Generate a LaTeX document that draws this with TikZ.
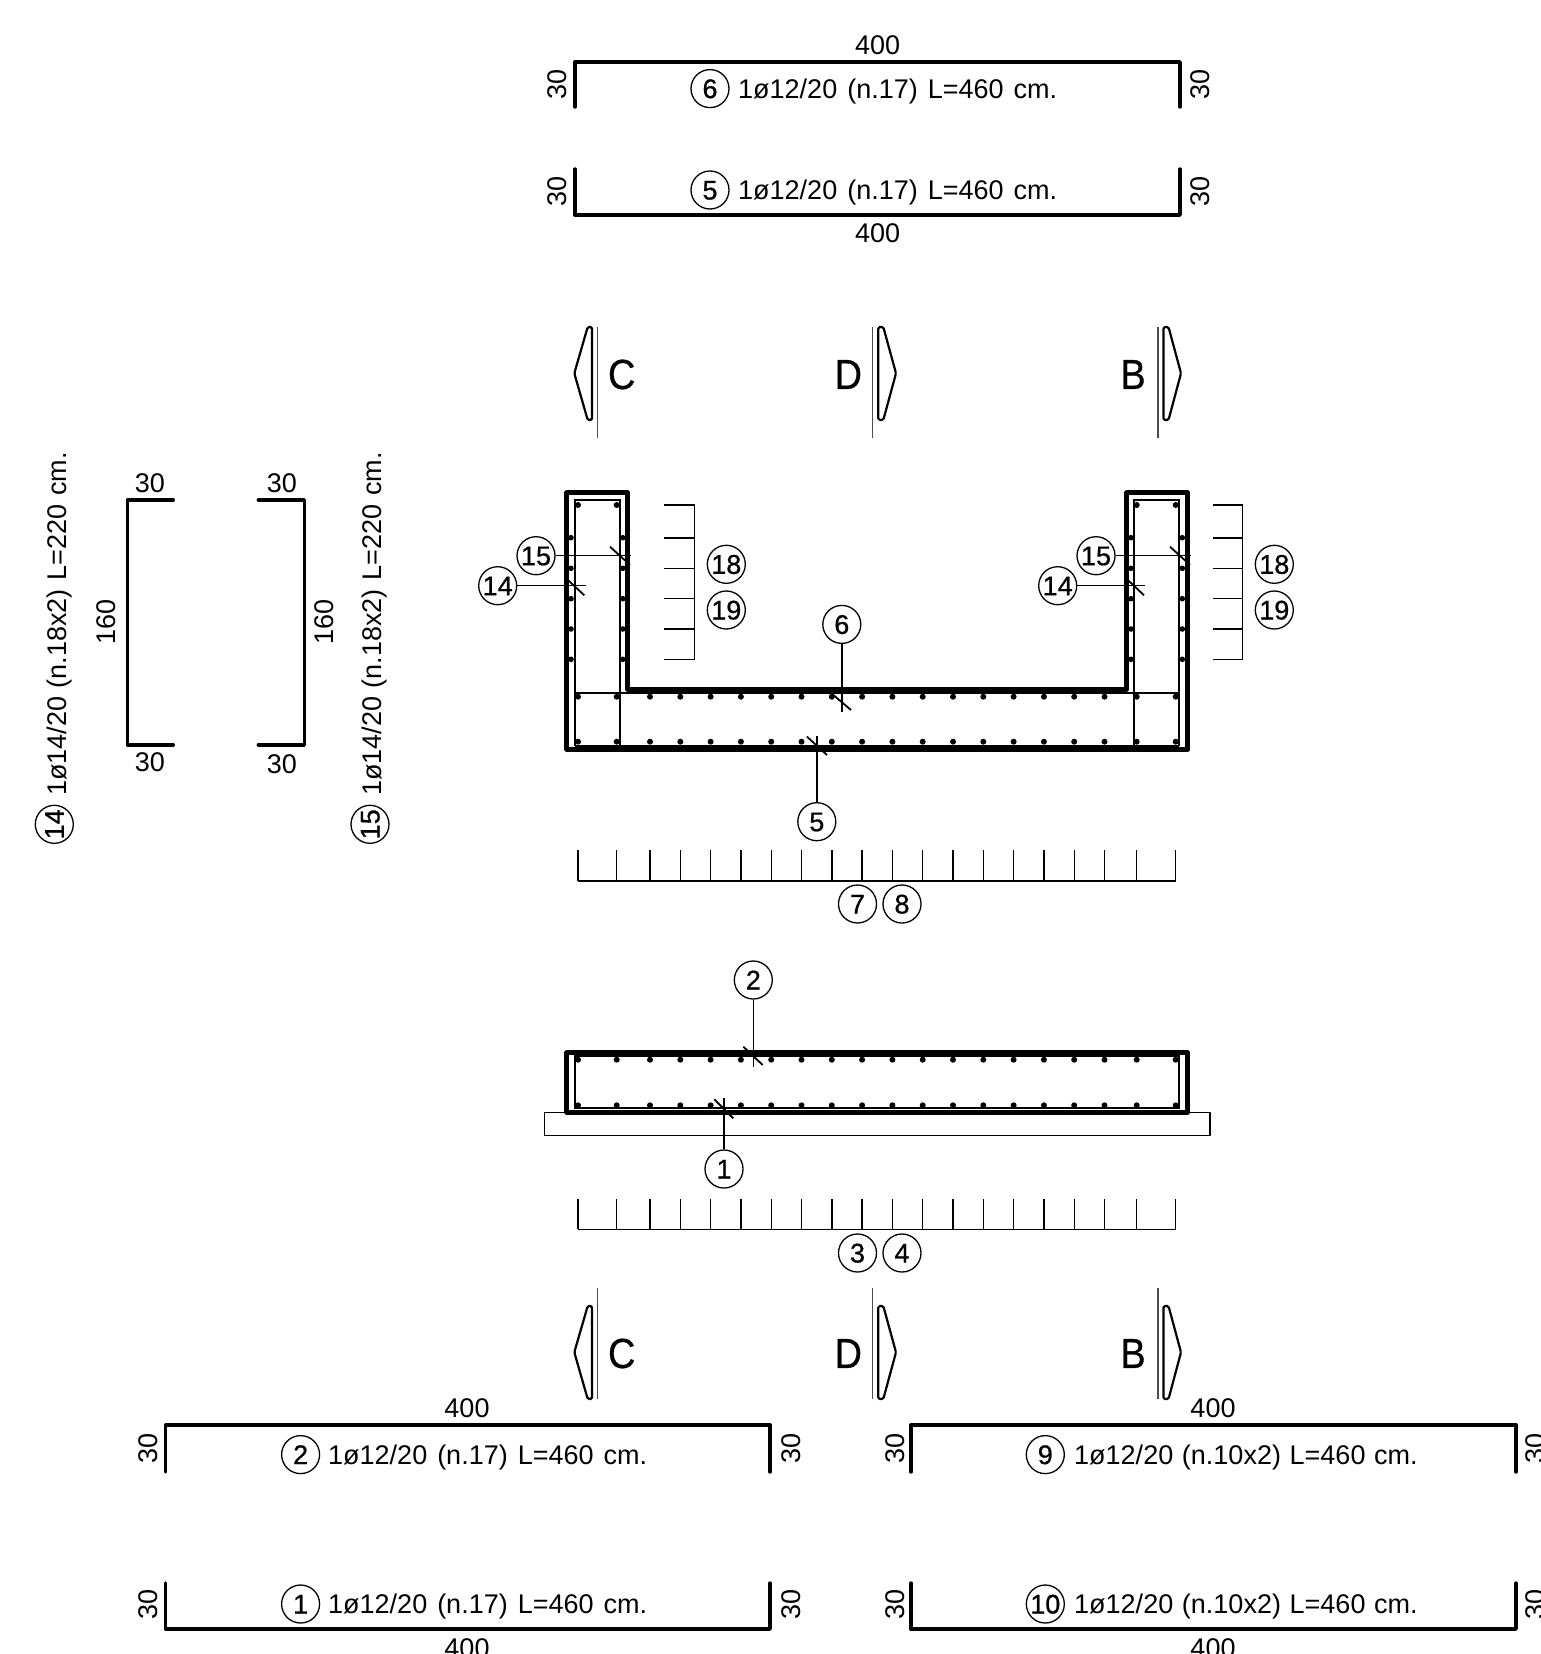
\documentclass[tikz,border=0pt]{standalone}
\usepackage{fontspec}
\setmainfont{Liberation Sans}
\newfontfamily\numfont[FakeBold=0.7]{Liberation Sans}
\usetikzlibrary{positioning}
\newcommand{\dotxs}{578,616.7,650,680.3,710.6,740.9,771.2,801.5,831.8,862.1,892.4,922.7,953,983.3,1013.6,1043.9,1074.2,1104.5,1136.7,1175.7}
\newcommand{\gapsp}{\hspace{10pt}}
\newcommand{\gapst}{\hspace{8.7pt}}
\tikzset{
  rebar/.style={line width=3.4pt, line cap=round, line join=round},
  concrete/.style={line width=4.6pt, line join=round},
  stirrup/.style={line width=2pt},
  thinline/.style={line width=1.4pt},
  tick/.style={line width=1.8pt},
  sectline/.style={line width=1.4pt, black!70},
  sectarrow/.style={line width=2.2pt, rounded corners=1.5pt, line join=round},
  posnum/.style={draw, circle, line width=1.3pt, minimum size=38pt, inner sep=0pt, text height=19pt, text depth=0pt, font=\fontsize{27}{27}\numfont},
  dimtext/.style={inner sep=0pt, text height=19pt, text depth=0pt, font=\fontsize{27}{27}\selectfont},
  bartext/.style={inner sep=0pt, anchor=west, text height=19pt, text depth=0pt, font=\fontsize{27}{27}\selectfont},
  sectname/.style={inner sep=0pt, xscale=0.9, font=\fontsize{42}{42}\numfont},
}
\begin{document}
\begin{tikzpicture}[x=1pt, y=-1pt]
  \path[use as bounding box, clip] (0,0) rectangle (1540,1654);

  % Top bars
  \draw[rebar] (575,107) -- (575,62) -- (1180,62) -- (1180,107);
  \node[dimtext] (dimsix) at (877.6,45) {400};
  \node[dimtext, rotate=90] (dimsixl) at (557,84) {30};
  \node[dimtext, rotate=90] (dimsixr) at (1200,84) {30};
  \node[posnum] (barsix) at (710,88.6) {6};
  \node[bartext] (textsix) at (738,88.6) {1ø12/20\gapsp(n.17)\gapsp L=460\gapsp cm.};

  \draw[rebar] (575,169) -- (575,215) -- (1180,215) -- (1180,169);
  \node[dimtext] (dimfive) at (877.6,233) {400};
  \node[dimtext, rotate=90] (dimfivel) at (557,191) {30};
  \node[dimtext, rotate=90] (dimfiver) at (1200,191) {30};
  \node[posnum] (barfive) at (710,190) {5};
  \node[bartext] (textfive) at (738,190) {1ø12/20\gapsp(n.17)\gapsp L=460\gapsp cm.};

  % Section marks
  \foreach \ly/\ry/\ay/\n in {327.3/438.3/0/a, 1288/1399/979/b} {
    \draw[sectline] (597.3,\ly) -- (597.3,\ry);
    \draw[sectarrow] (592,327+\ay) -- (587.7,327+\ay) -- (574.3,373.3+\ay) -- (587.7,420+\ay) -- (592,420+\ay) -- cycle;
    \node[sectname] (secc\n) at (621.7,374.5+\ay) {C};
    \draw[sectline] (872.7,\ly) -- (872.7,\ry);
    \draw[sectarrow] (878.3,327+\ay) -- (883.3,327+\ay) -- (896,373.3+\ay) -- (883.3,420+\ay) -- (878.3,420+\ay) -- cycle;
    \node[sectname] (secd\n) at (848.3,374.5+\ay) {D};
    \draw[sectline] (1158,\ly) -- (1158,\ry);
    \draw[sectarrow] (1163.5,327+\ay) -- (1168.5,327+\ay) -- (1181,373.3+\ay) -- (1168.5,420+\ay) -- (1163.5,420+\ay) -- cycle;
    \node[sectname] (secb\n) at (1133,374.5+\ay) {B};
  }

  % Side bars
  \draw[rebar] (173.3,500) -- (127.3,500) -- (127.3,745) -- (173.3,745);
  \node[dimtext] (dimupl) at (150,482.7) {30};
  \node[dimtext] (dimlowl) at (150,762.3) {30};
  \node[dimtext, rotate=90] (dimmidl) at (106,622.3) {160};
  \node[posnum, rotate=90] (barfourteen) at (54.3,824.3) {14};
  \node[bartext, rotate=90] (textfourteen) at (56.7,796) {1ø14/20\gapst(n.18x2)\gapst L=220\gapst cm.};

  \draw[rebar] (258.3,500) -- (304.3,500) -- (304.3,745) -- (258.3,745);
  \node[dimtext] (dimupr) at (282,482.7) {30};
  \node[dimtext] (dimlowr) at (282,764) {30};
  \node[dimtext, rotate=90] (dimmidr) at (324,622.3) {160};
  \node[posnum, rotate=90] (barfifteen) at (370,824.3) {15};
  \node[bartext, rotate=90] (textfifteen) at (371.7,796) {1ø14/20\gapst(n.18x2)\gapst L=220\gapst cm.};

  % U section
  \draw[concrete] (566.7,492.7) -- (627.7,492.7) -- (627.7,689.3) -- (1126.7,689.3) -- (1126.7,492.7) -- (1187.7,492.7) -- (1187.7,749.3) -- (566.7,749.3) -- cycle;
  \draw[stirrup] (575,746) -- (575,500) -- (620,500) -- (620,746);
  \draw[stirrup] (1134,746) -- (1134,500) -- (1179,500) -- (1179,746);
  \draw[stirrup] (575,692.7) -- (1179,692.7);
  \draw[stirrup] (575,746) -- (1179,746);
  \foreach \x in \dotxs {
    \fill (\x,696.7) circle (3pt);
    \fill (\x,741.7) circle (3pt);
  }
  \foreach \x in {578,616.7,1136.7,1175.7} \fill (\x,505) circle (3pt);
  \foreach \y in {537.7,568.3,598.7,629,659.3} {
    \foreach \x in {571,622.7,1131,1182.3} \fill (\x,\y) circle (2.8pt);
  }

  % Leaders, U section
  \node[posnum] (leadfifteenl) at (536,555.7) {15};
  \coordinate (endfifteenl) at (631,555.7);
  \draw[thinline] (leadfifteenl) -- (endfifteenl);
  \draw[tick] (610,546.7) -- (630,565);
  \node[posnum] (leadfourteenl) at (497.7,585.7) {14};
  \coordinate (endfourteenl) at (585.7,585.7);
  \draw[thinline] (leadfourteenl) -- (endfourteenl);
  \draw[tick] (565,577.3) -- (584.3,595.3);
  \node[posnum] (leadfifteenr) at (1096,555.7) {15};
  \coordinate (endfifteenr) at (1191,555.7);
  \draw[thinline] (leadfifteenr) -- (endfifteenr);
  \draw[tick] (1170,546.7) -- (1190,565);
  \node[posnum] (leadfourteenr) at (1057.7,585.7) {14};
  \coordinate (endfourteenr) at (1145,585.7);
  \draw[thinline] (leadfourteenr) -- (endfourteenr);
  \draw[tick] (1125,577.3) -- (1144,595.3);
  \node[posnum] (leadsix) at (841.8,624.4) {6};
  \coordinate (endsix) at (841.8,712);
  \draw[thinline] (leadsix) -- (endsix);
  \draw[tick] (831,693) -- (851,710);
  \node[posnum] (leadfive) at (816.8,821.7) {5};
  \coordinate (endfive) at (816.8,735.7);
  \draw[thinline] (leadfive) -- (endfive);
  \draw[tick] (807,736.7) -- (827,755);

  % Combs, U section
  \draw[thinline] (664,505) -- (694.7,505) -- (694.7,659.3) -- (664,659.3);
  \draw[thinline] (1212.7,505) -- (1242.7,505) -- (1242.7,659.3) -- (1212.7,659.3);
  \foreach \y in {538,568.3,598.7,629} {
    \draw[thinline] (664,\y) -- (694.7,\y);
    \draw[thinline] (1212.7,\y) -- (1242.7,\y);
  }
  \node[posnum] (numeighteenl) at (726.3,564.3) {18};
  \node[posnum] (numnineteenl) at (726.3,610) {19};
  \node[posnum] (numeighteenr) at (1274.3,564.3) {18};
  \node[posnum] (numnineteenr) at (1274.3,610) {19};
  \draw[thinline] (578,881) -- (1175.7,881);
  \foreach \x in \dotxs \draw[thinline] (\x,850) -- (\x,881);
  \node[posnum] (numseven) at (857.5,904) {7};
  \node[posnum] (numeight) at (902,904) {8};

  % Lower section
  \draw[concrete] (566.7,1052.7) rectangle (1187.7,1112.3);
  \draw[stirrup] (575,1056) rectangle (1179,1108.3);
  \draw[thinline] (544.3,1112.3) rectangle (1210,1135.3);
  \foreach \x in \dotxs {
    \fill (\x,1059.7) circle (3pt);
    \fill (\x,1105.3) circle (3pt);
  }
  \node[posnum] (leadtwo) at (753.3,980) {2};
  \coordinate (endtwo) at (753.3,1066.7);
  \draw[thinline] (leadtwo) -- (endtwo);
  \draw[tick] (743.3,1046.7) -- (762.7,1065);
  \node[posnum] (leadone) at (724,1169) {1};
  \coordinate (endone) at (724,1098.3);
  \draw[thinline] (leadone) -- (endone);
  \draw[tick] (714.3,1099.3) -- (733.3,1118.3);
  \draw[thinline] (578,1229.3) -- (1175.7,1229.3);
  \foreach \x in \dotxs \draw[thinline] (\x,1199) -- (\x,1229.3);
  \node[posnum] (numthree) at (857.5,1253) {3};
  \node[posnum] (numfour) at (902,1253) {4};

  % Bottom bars
  \draw[rebar] (165.6,1472) -- (165.6,1425) -- (770,1425) -- (770,1472);
  \node[dimtext] (dimtwo) at (467,1408) {400};
  \node[dimtext, rotate=90] (dimtwol) at (147.7,1448) {30};
  \node[dimtext, rotate=90] (dimtwor) at (791,1448) {30};
  \node[posnum] (bartwo) at (300.6,1454.6) {2};
  \node[bartext] (texttwo) at (328,1454.6) {1ø12/20\gapsp(n.17)\gapsp L=460\gapsp cm.};

  \draw[rebar] (165.6,1583) -- (165.6,1629) -- (770,1629) -- (770,1583);
  \node[dimtext] (dimone) at (467,1648) {400};
  \node[dimtext, rotate=90] (dimonel) at (147.7,1604) {30};
  \node[dimtext, rotate=90] (dimoner) at (791,1604) {30};
  \node[posnum] (barone) at (300.6,1604) {1};
  \node[bartext] (textone) at (328,1604) {1ø12/20\gapsp(n.17)\gapsp L=460\gapsp cm.};

  \draw[rebar] (911,1472) -- (911,1425) -- (1516,1425) -- (1516,1472);
  \node[dimtext] (dimnine) at (1213,1408) {400};
  \node[dimtext, rotate=90] (dimninel) at (894.5,1448) {30};
  \node[dimtext, rotate=90] (dimniner) at (1535,1448) {30};
  \node[posnum] (barnine) at (1045.3,1454.6) {9};
  \node[bartext] (textnine) at (1074,1454.6) {1ø12/20\gapst(n.10x2)\gapst L=460\gapst cm.};

  \draw[rebar] (911,1583) -- (911,1629) -- (1516,1629) -- (1516,1583);
  \node[dimtext] (dimten) at (1213,1648) {400};
  \node[dimtext, rotate=90] (dimtenl) at (894.5,1604) {30};
  \node[dimtext, rotate=90] (dimtenr) at (1535,1604) {30};
  \node[posnum] (barten) at (1045.3,1604) {10};
  \node[bartext] (textten) at (1074,1604) {1ø12/20\gapst(n.10x2)\gapst L=460\gapst cm.};
\end{tikzpicture}
\end{document}
